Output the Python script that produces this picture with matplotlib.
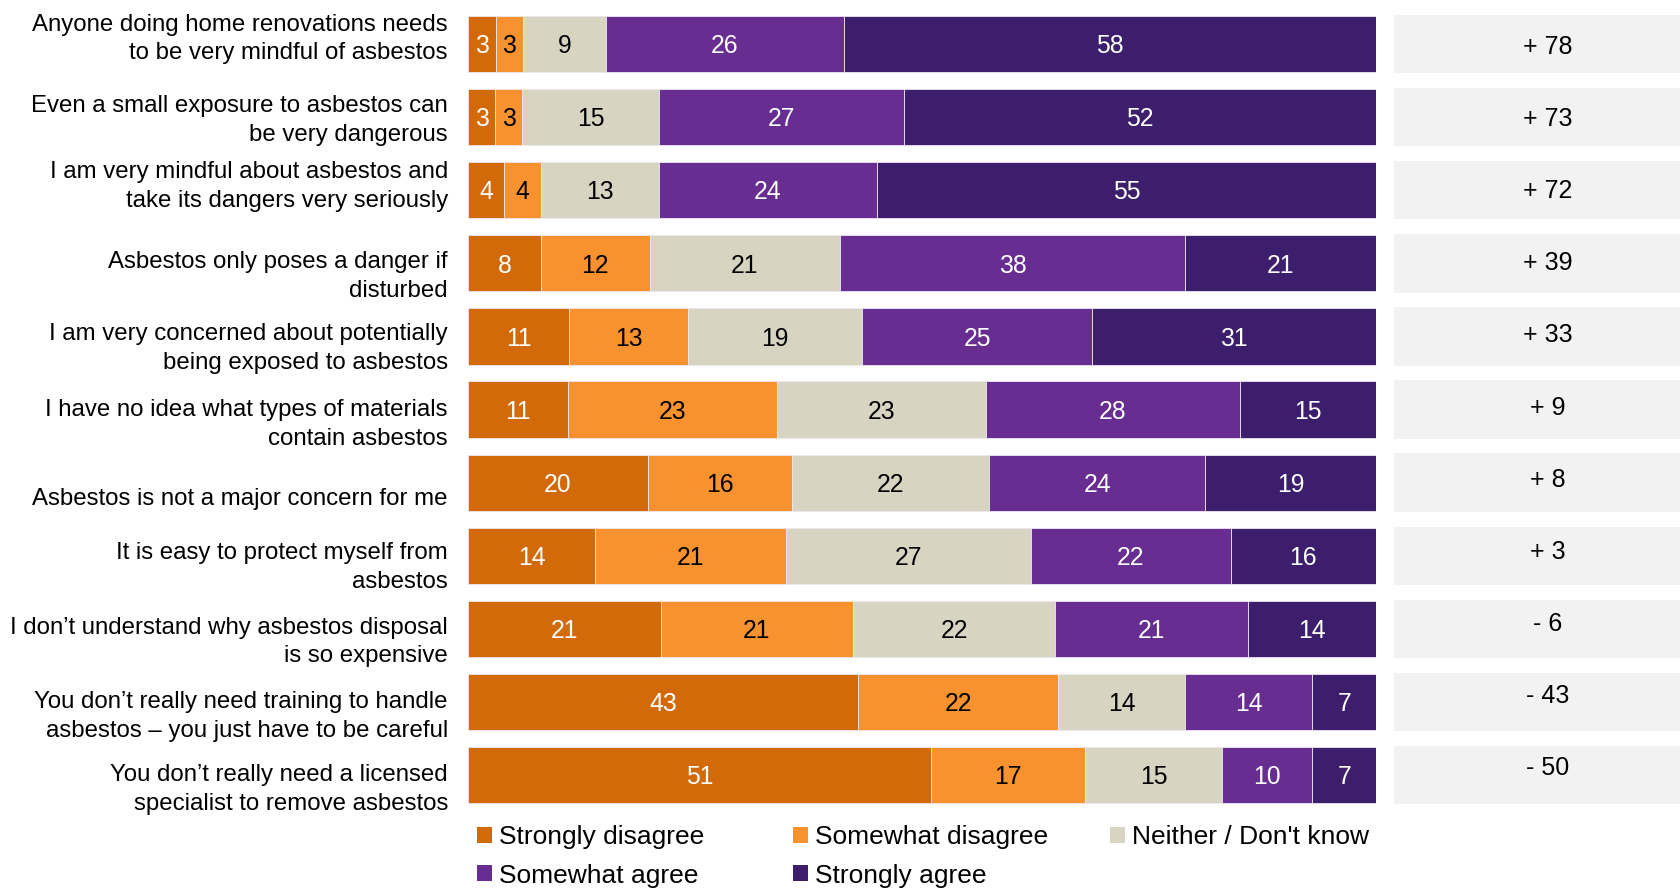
import matplotlib
matplotlib.use("Agg")
import matplotlib.pyplot as plt
import numpy as np
from matplotlib.patches import Patch

plt.rcParams['font.family'] = ['Liberation Sans', 'DejaVu Sans']

statements = [
    "Anyone doing home renovations needs\nto be very mindful of asbestos",
    "Even a small exposure to asbestos can\nbe very dangerous",
    "I am very mindful about asbestos and\ntake its dangers very seriously",
    "Asbestos only poses a danger if\ndisturbed",
    "I am very concerned about potentially\nbeing exposed to asbestos",
    "I have no idea what types of materials\ncontain asbestos",
    "Asbestos is not a major concern for me",
    "It is easy to protect myself from\nasbestos",
    "I don\u2019t understand why asbestos disposal\nis so expensive",
    "You don\u2019t really need training to handle\nasbestos \u2013 you just have to be careful",
    "You don\u2019t really need a licensed\nspecialist to remove asbestos",
]
categories = ["Strongly disagree", "Somewhat disagree", "Neither / Don't know",
              "Somewhat agree", "Strongly agree"]
strongly_disagree = [3, 3, 4, 8, 11, 11, 20, 14, 21, 43, 51]
somewhat_disagree = [3, 3, 4, 12, 13, 23, 16, 21, 21, 22, 17]
neither = [9, 15, 13, 21, 19, 23, 22, 27, 22, 14, 15]
somewhat_agree = [26, 27, 24, 38, 25, 28, 24, 22, 21, 14, 10]
strongly_agree = [58, 52, 55, 21, 31, 15, 19, 16, 14, 7, 7]
net_scores = ["+ 78", "+ 73", "+ 72", "+ 39", "+ 33", "+ 9", "+ 8", "+ 3", "- 6", "- 43", "- 50"]

colors = ["#D26A09", "#F7922F", "#D7D4C1", "#672D91", "#3C1E6C"]
text_colors = ["white", "black", "black", "white", "white"]

# layout nudges for the left-hand labels (in row units)
label_nudge = [-0.07, 0.05, -0.05, 0.18, 0.16, 0.2, 0.22, 0.16, 0.18, 0.2, 0.2]

series = np.array([strongly_disagree, somewhat_disagree, neither, somewhat_agree, strongly_agree], dtype=float)
totals = series.sum(axis=0)
shares = series / totals * 100

W, H = 1681, 888
fig = plt.figure(figsize=(W / 100, H / 100), dpi=100)
ax_bottom = (888 - 811.6) / 888
ax_top = (888 - 7.5) / 888
ax = fig.add_axes([468 / W, ax_bottom, (1376 - 468) / W, ax_top - ax_bottom])
ax2 = fig.add_axes([1394 / W, ax_bottom, (W - 1394) / W, ax_top - ax_bottom])

n = len(statements)
y = np.arange(n)
bar_h = 0.77
left = np.zeros(n)
for i in range(5):
    ax.barh(y, shares[i], left=left, height=bar_h, color=colors[i],
            edgecolor="#EDE7F2", linewidth=0.6, label=categories[i])
    for j in range(n):
        ax.text(left[j] + shares[i][j] / 2, y[j] + 0.03, f"{int(series[i][j])}",
                ha="center", va="center", color=text_colors[i], fontsize=17.8)
    left += shares[i]

ax.set_xlim(0, 100)
ax.set_ylim(n - 0.5, -0.5)
ax.axis("off")

for j in range(n):
    ax.text(-20 / 908 * 100, y[j] + label_nudge[j], statements[j], ha="right", va="center",
            fontsize=17.3, color="black", linespacing=1.4)

ax2.barh(y, [1] * n, height=0.8, color="#F2F2F2")
for j in range(n):
    ax2.text(0.535, y[j] + 0.045 - 0.0145 * j, net_scores[j], ha="center", va="center",
             fontsize=18, color="black")
ax2.set_xlim(0, 1)
ax2.set_ylim(n - 0.5, -0.5)
ax2.axis("off")

# legend: three columns, filled row-wise
columns = [[0, 3], [1, 4], [2]]
col_x = [477, 793, 1110]
for idx, xpix in zip(columns, col_x):
    handles = [Patch(facecolor=colors[k], edgecolor='none') for k in idx]
    labels = [categories[k] for k in idx]
    leg = fig.legend(handles, labels, ncol=1, loc="upper left",
                     bbox_to_anchor=(xpix / W, 1 - 825 / H), frameon=False,
                     fontsize=19, handlelength=0.55, handleheight=0.55, handletextpad=0.3,
                     labelspacing=0.55, borderaxespad=0, borderpad=0)

fig.savefig("out.png", dpi=100)
